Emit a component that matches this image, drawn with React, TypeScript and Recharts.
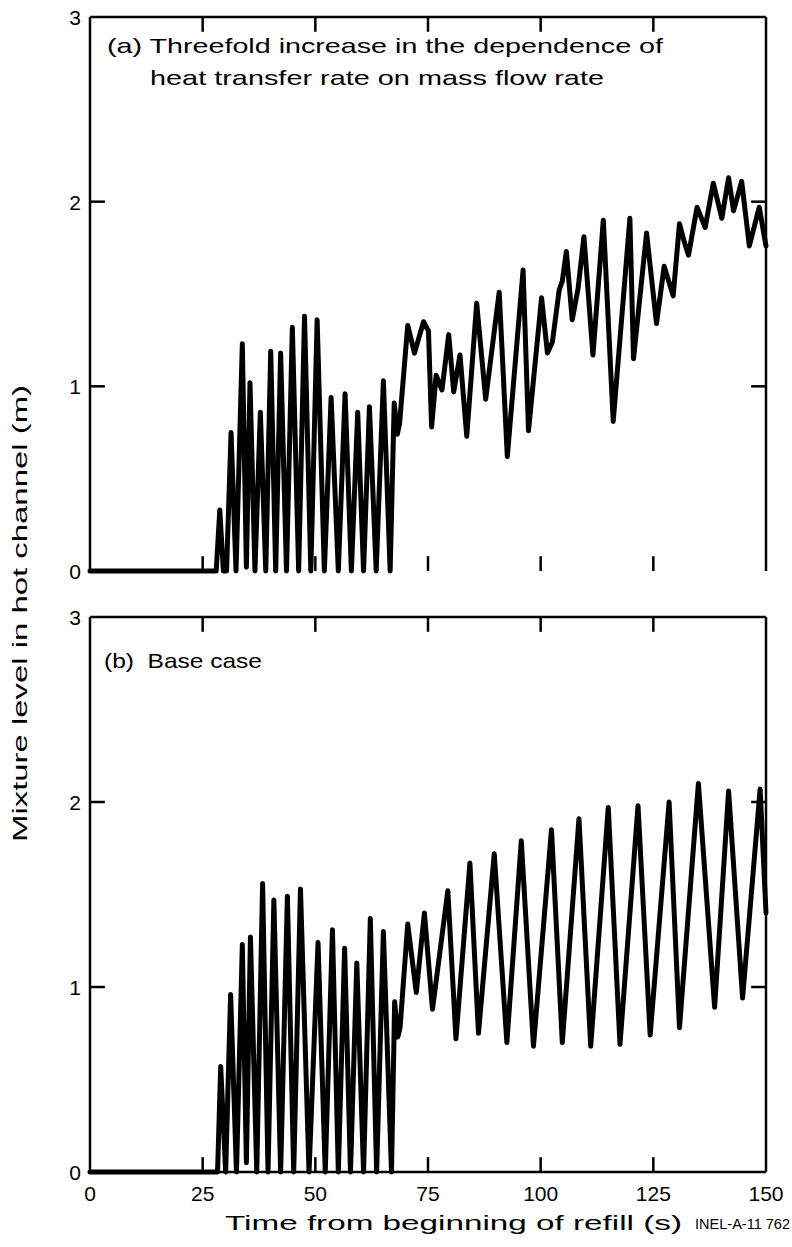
import { LineChart, Line, XAxis, YAxis, ReferenceLine } from 'recharts'

// panel (a): threefold increase in heat transfer dependence
const timeA = [
  0, 28.0, 28.8, 29.6, 30.3, 31.3, 32.4, 33.8, 34.7, 35.5, 36.6, 37.8, 39.0, 40.1, 41.2,
  42.3, 43.6, 44.9, 46.3, 47.6, 49.0, 50.4, 52.0, 53.5, 55.1, 56.6, 58.0, 59.4, 60.7, 62.0,
  63.5, 65.1, 66.6, 67.5, 68.2, 68.7, 70.5, 72.0, 74.0, 75.1, 75.8, 76.8, 78.1, 79.6, 80.7,
  82.1, 83.6, 85.8, 87.8, 90.8, 92.6, 96.1, 97.3, 100.2, 101.5, 102.6, 104.1, 104.8, 105.7, 107.0,
  108.3, 109.6, 111.6, 113.9, 116.1, 119.8, 120.6, 123.5, 125.7, 127.4, 129.4, 130.8, 131.9, 132.8, 134.7,
  136.5, 138.3, 140.2, 141.7, 142.8, 144.6, 146.3, 148.5, 150,
]
const levelA = [
  0, 0, 0.33, 0, 0, 0.75, 0, 1.23, 0.02, 1.02, 0, 0.86, 0, 1.19, 0,
  1.18, 0, 1.32, 0, 1.38, 0, 1.36, 0, 0.94, 0, 0.96, 0, 0.86, 0, 0.89,
  0, 1.03, 0, 0.91, 0.74, 0.8, 1.33, 1.18, 1.35, 1.3, 0.78, 1.06, 0.98, 1.28, 0.97,
  1.17, 0.73, 1.45, 0.93, 1.51, 0.62, 1.63, 0.76, 1.48, 1.18, 1.24, 1.52, 1.57, 1.73, 1.36,
  1.53, 1.81, 1.17, 1.9, 0.81, 1.91, 1.15, 1.83, 1.34, 1.65, 1.49, 1.88, 1.78, 1.71, 1.97,
  1.86, 2.1, 1.91, 2.13, 1.95, 2.11, 1.76, 1.97, 1.76,
]

// panel (b): base case
const timeB = [
  0, 28.3, 29.0, 30.1, 31.2, 32.5, 33.8, 34.7, 35.6, 37.0, 38.3, 39.5, 40.8, 42.3, 43.8,
  45.2, 46.7, 48.6, 50.6, 52.2, 53.8, 55.1, 56.5, 57.8, 59.2, 60.7, 62.2, 63.6, 65.1, 66.9,
  67.6, 68.3, 68.8, 70.5, 72.4, 74.2, 76.0, 79.4, 81.2, 84.3, 86.2, 89.7, 92.5, 95.7, 98.4,
  102.4, 104.8, 108.5, 111.1, 115.0, 117.6, 121.6, 124.3, 128.5, 130.8, 135.0, 138.6, 141.7, 144.8, 148.7,
  150,
]
const levelB = [
  0, 0, 0.57, 0, 0.96, 0, 1.23, 0.05, 1.27, 0, 1.56, 0, 1.47, 0, 1.49,
  0, 1.53, 0, 1.24, 0, 1.31, 0, 1.21, 0, 1.13, 0, 1.37, 0, 1.3, 0,
  0.92, 0.73, 0.78, 1.34, 0.97, 1.4, 0.88, 1.52, 0.72, 1.67, 0.75, 1.72, 0.7, 1.79, 0.68,
  1.85, 0.7, 1.91, 0.68, 1.97, 0.69, 1.98, 0.74, 2.0, 0.78, 2.1, 0.89, 2.06, 0.94, 2.07,
  1.4,
]

const xTicks = [0, 25, 50, 75, 100, 125, 150]
const yTicks = [0, 1, 2, 3]
const innerX = [25, 50, 75, 100, 125]
const innerY = [1, 2]

const FONT = '"Liberation Sans", Arial, Helvetica, sans-serif'
const GAP = 4
// inward tick length in data units (~15px)
const TX = 3.3
const TY = 0.08

type Side = 'bottom' | 'left'

function makeTick(side: Side, showLabel: boolean) {
  return (props: any) => {
    const { x, y, payload } = props
    if (!showLabel) return <g />
    if (side === 'bottom') {
      return (
        <text x={x} y={y - GAP + 29} textAnchor="middle" fontSize={21} fontFamily={FONT} fill="#000">
          {payload.value}
        </text>
      )
    }
    return (
      <text x={x + GAP - 9} y={y + 8} textAnchor="end" fontSize={21} fontFamily={FONT} fill="#000">
        {payload.value}
      </text>
    )
  }
}

const axisLine = { stroke: '#000', strokeWidth: 2.5 }

function Panel({ times, levels, top, height, bottomMargin, xLabels }: {
  times: number[]
  levels: number[]
  top: number
  height: number
  bottomMargin: number
  xLabels: boolean
}) {
  const data = times.map((t, i) => ({ t, v: levels[i] }))
  return (
    <div style={{ position: 'absolute', left: 0, top }}>
      <LineChart width={792} height={height} data={data} margin={{ top: 17, right: 26, bottom: bottomMargin, left: 0 }}>
        <XAxis
          dataKey="t"
          type="number"
          domain={[0, 150]}
          ticks={xTicks}
          interval={0}
          height={xLabels ? 30 : 0}
          tickSize={0}
          tickMargin={GAP}
          tickLine={false}
          axisLine={axisLine}
          tick={makeTick('bottom', xLabels)}
        />
        <YAxis
          type="number"
          domain={[0, 3]}
          ticks={yTicks}
          interval={0}
          width={90}
          tickSize={0}
          tickMargin={GAP}
          tickLine={false}
          axisLine={axisLine}
          tick={makeTick('left', true)}
        />
        {/* frame: top and right edges */}
        <ReferenceLine y={3} stroke="#000" strokeWidth={2.5} ifOverflow="visible" />
        <ReferenceLine x={150} stroke="#000" strokeWidth={2.5} ifOverflow="visible" />
        {/* inward tick marks on all four sides */}
        {innerX.map((t) => (
          <ReferenceLine key={'b' + t} segment={[{ x: t, y: 0 }, { x: t, y: TY }]} stroke="#000" strokeWidth={2.5} ifOverflow="visible" />
        ))}
        {innerX.map((t) => (
          <ReferenceLine key={'t' + t} segment={[{ x: t, y: 3 }, { x: t, y: 3 - TY }]} stroke="#000" strokeWidth={2.5} ifOverflow="visible" />
        ))}
        {innerY.map((v) => (
          <ReferenceLine key={'l' + v} segment={[{ x: 0, y: v }, { x: TX, y: v }]} stroke="#000" strokeWidth={2.5} ifOverflow="visible" />
        ))}
        {innerY.map((v) => (
          <ReferenceLine key={'r' + v} segment={[{ x: 150, y: v }, { x: 150 - TX, y: v }]} stroke="#000" strokeWidth={2.5} ifOverflow="visible" />
        ))}
        <Line
          type="linear"
          dataKey="v"
          stroke="#000"
          strokeWidth={5}
          strokeLinejoin="round"
          strokeLinecap="round"
          dot={false}
          isAnimationActive={false}
        />
      </LineChart>
    </div>
  )
}

export default function App() {
  return (
    <div style={{ position: 'absolute', left: 0, top: 0, width: 792, height: 1247, background: '#fff', fontFamily: FONT }}>
      <Panel times={timeA} levels={levelA} top={0} height={600} bottomMargin={29} xLabels={false} />
      <Panel times={timeB} levels={levelB} top={600} height={647} bottomMargin={45} xLabels={true} />
      <svg width={792} height={1247} style={{ position: 'absolute', left: 0, top: 0, pointerEvents: 'none' }}>
        <g fontFamily={FONT} fill="#000">
          <text x={107} y={53} fontSize={21} textLength={556} lengthAdjust="spacingAndGlyphs">
            (a) Threefold increase in the dependence of
          </text>
          <text x={150} y={85} fontSize={21} textLength={454} lengthAdjust="spacingAndGlyphs">
            heat transfer rate on mass flow rate
          </text>
          <text x={104} y={668} fontSize={21} textLength={158} lengthAdjust="spacingAndGlyphs" xmlSpace="preserve">
            (b)  Base case
          </text>
          <g transform="translate(27,842) rotate(-90)">
            <text x={0} y={0} fontSize={21} textLength={457} lengthAdjust="spacingAndGlyphs">
              Mixture level in hot channel (m)
            </text>
          </g>
          <text x={225} y={1230} fontSize={21} textLength={457} lengthAdjust="spacingAndGlyphs">
            Time from beginning of refill (s)
          </text>
          <text x={695} y={1229} fontSize={15} textLength={95} lengthAdjust="spacingAndGlyphs">
            INEL-A-11 762
          </text>
        </g>
      </svg>
    </div>
  )
}
